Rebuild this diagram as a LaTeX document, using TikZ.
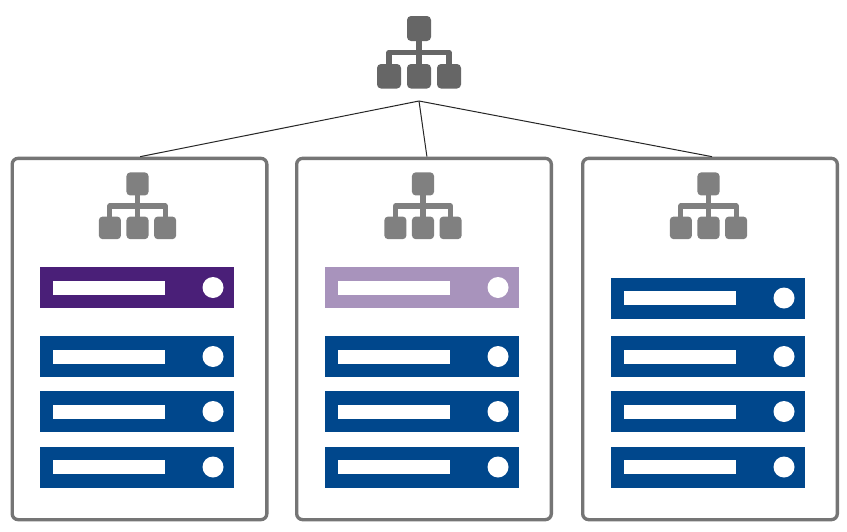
\documentclass[tikz,border=0pt]{standalone}
\definecolor{panelgrey}{HTML}{757575}
\definecolor{hubdark}{HTML}{666666}
\definecolor{hubgrey}{HTML}{808080}
\definecolor{srvblue}{HTML}{00478C}
\definecolor{srvpurple}{HTML}{4A1F78}
\definecolor{srvlilac}{HTML}{A893BC}
\tikzset{
  x=0.75pt,y=-0.75pt,
  panel/.style={draw=panelgrey,line width=2.5pt,rounded corners=4.5pt,fill=white,
    minimum width=191pt,minimum height=271pt,inner sep=0pt},
  link/.style={draw=black!85,line width=0.75pt},
  pics/hub/.style n args={2}{code={
    % centred on the middle of the horizontal bar; #1 = scale, #2 = colour
    \draw[#2,line width=#1*4.1pt,line join=round]
      (-30*#1,12*#1) -- (-30*#1,0) -- (30*#1,0) -- (30*#1,12*#1);
    \draw[#2,line width=#1*4.1pt] (0,-12*#1) -- (0,12*#1);
    \fill[#2,rounded corners=#1*3pt] (-12*#1,-36.5*#1) rectangle (12*#1,-11.5*#1);
    \fill[#2,rounded corners=#1*3pt] (-42*#1,11.5*#1) rectangle (-18*#1,36*#1);
    \fill[#2,rounded corners=#1*3pt] (-12*#1,11.5*#1) rectangle (12*#1,36*#1);
    \fill[#2,rounded corners=#1*3pt] (18*#1,11.5*#1) rectangle (42*#1,36*#1);
  }},
  pics/server/.style={code={
    % centred on the bar
    \fill[#1] (-97,-20.5) rectangle (97,20.5);
    \fill[white] (-84,-7) rectangle (28,7);
    \fill[white] (76,0) circle[radius=10.5];
  }},
}
\begin{document}
\begin{tikzpicture}
\useasboundingbox[fill=white] (0,0) rectangle (847,532);
% top hub
\pic at (419,52.5) {hub={1}{hubdark}};
\coordinate (apex) at (419,101);
% panels
\node[panel] (p1) at (139.5,339) {};
\node[panel] (p2) at (424,339) {};
\node[panel] (p3) at (710,339) {};
\coordinate (e1) at ([xshift=0.5pt]p1.north);
\coordinate (e2) at ([xshift=2.2pt]p2.north);
\coordinate (e3) at ([xshift=1.5pt]p3.north);
\draw[link] (apex) -- (e1);
\draw[link] (apex) -- (e2);
\draw[link] (apex) -- (e3);
% panel hubs
\pic at (137.5,206) {hub={0.92}{hubgrey}};
\pic at (423,206) {hub={0.92}{hubgrey}};
\pic at (708.5,206) {hub={0.92}{hubgrey}};
% panel 1 servers
\pic at (137,287.5) {server=srvpurple};
\pic at (137,356.5) {server=srvblue};
\pic at (137,411.5) {server=srvblue};
\pic at (137,467) {server=srvblue};
% panel 2 servers
\pic at (422,287.5) {server=srvlilac};
\pic at (422,356.5) {server=srvblue};
\pic at (422,411.5) {server=srvblue};
\pic at (422,467) {server=srvblue};
% panel 3 servers
\pic at (708,298) {server=srvblue};
\pic at (708,356.5) {server=srvblue};
\pic at (708,411.5) {server=srvblue};
\pic at (708,467) {server=srvblue};
\end{tikzpicture}
\end{document}
